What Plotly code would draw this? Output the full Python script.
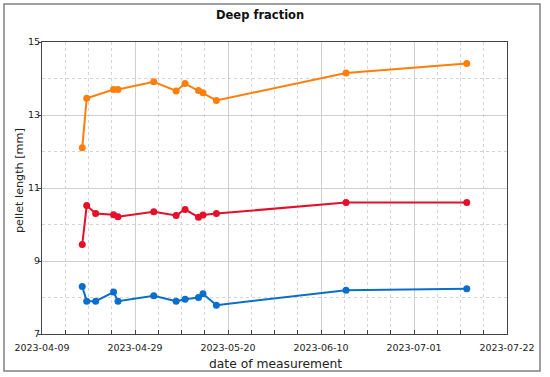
import plotly.graph_objects as go

# ---- data ----
dates_orange = ["2023-04-18", "2023-04-19", "2023-04-25", "2023-04-26", "2023-05-04",
                "2023-05-09", "2023-05-11", "2023-05-14", "2023-05-15", "2023-05-18",
                "2023-06-16", "2023-07-13"]
orange_vals = [12.10, 13.46, 13.70, 13.70, 13.91, 13.66, 13.86, 13.67, 13.61, 13.40, 14.15, 14.41]

dates_rb = ["2023-04-18", "2023-04-19", "2023-04-21", "2023-04-25", "2023-04-26", "2023-05-04",
            "2023-05-09", "2023-05-11", "2023-05-14", "2023-05-15", "2023-05-18",
            "2023-06-16", "2023-07-13"]
red_vals = [9.45, 10.52, 10.30, 10.27, 10.21, 10.35, 10.25, 10.41, 10.20, 10.26, 10.30, 10.60, 10.60]
blue_vals = [8.30, 7.90, 7.90, 8.15, 7.90, 8.05, 7.90, 7.95, 8.00, 8.10, 7.79, 8.20, 8.24]

x_tick_vals = ["2023-04-09 00:00", "2023-04-29 19:12", "2023-05-20 14:24",
               "2023-06-10 09:36", "2023-07-01 04:48", "2023-07-22 00:00"]
x_tick_text = ["2023-04-09", "2023-04-29", "2023-05-20", "2023-06-10", "2023-07-01", "2023-07-22"]
y_tick_vals = [7, 9, 11, 13, 15]

title_text = "Deep fraction"
x_title = "date of measurement"
y_title = "pellet length [mm]"

# ---- styling ----
C_ORANGE = "#ff7f0a"
C_RED = "#e4102a"
C_BLUE = "#0a6ecc"
FONT = "DejaVu Sans"
AXC = "#444444"
DAY_MS = 86400000

fig = go.Figure()
for xs, ys, c in [(dates_orange, orange_vals, C_ORANGE),
                  (dates_rb, red_vals, C_RED),
                  (dates_rb, blue_vals, C_BLUE)]:
    fig.add_trace(go.Scatter(x=xs, y=ys, mode="lines+markers",
                             line=dict(color=c, width=2),
                             marker=dict(color=c, size=7),
                             showlegend=False))

fig.update_layout(
    width=550, height=377,
    margin=dict(l=42, r=43, t=42, b=43),
    paper_bgcolor="white", plot_bgcolor="white",
    font=dict(family=FONT, size=10, color="#222222"),
    xaxis=dict(type="date", range=["2023-04-09", "2023-07-22"],
               tickmode="array", tickvals=x_tick_vals, ticktext=x_tick_text,
               ticks="inside", ticklen=4, tickcolor=AXC, ticklabelstandoff=5,
               showline=True, linecolor=AXC, linewidth=1, mirror=True,
               showgrid=True, gridcolor="#cfcfcf", gridwidth=1,
               tickfont=dict(family=FONT, size=9.5, color="#222222"),
               zeroline=False,
               minor=dict(tick0="2023-04-09", dtick=5.2 * DAY_MS, ticks="inside",
                          ticklen=4, tickcolor=AXC, showgrid=True,
                          gridcolor="#d4d4d4", griddash="dot", gridwidth=1)),
    yaxis=dict(range=[7, 15], tickmode="array", tickvals=y_tick_vals,
               ticks="outside", ticklen=3, tickcolor=AXC, ticklabelstandoff=-4,
               showline=True, linecolor=AXC, linewidth=1, mirror=True,
               showgrid=True, gridcolor="#cfcfcf", gridwidth=1,
               tickfont=dict(family=FONT, size=9.5, color="#222222"),
               zeroline=False,
               minor=dict(dtick=1, tick0=7, ticks="", showgrid=True,
                          gridcolor="#d4d4d4", griddash="dot", gridwidth=1)),
    xaxis2=dict(type="date", overlaying="x", side="top",
                range=["2023-04-09", "2023-07-22"],
                tick0="2023-04-09", dtick=104 / 6 * DAY_MS,
                ticks="inside", ticklen=4, tickcolor=AXC,
                showticklabels=False, showgrid=False, showline=False, zeroline=False),
    yaxis2=dict(overlaying="y", side="right", range=[7, 15], dtick=1, tick0=7,
                ticks="inside", ticklen=4, tickcolor=AXC,
                showticklabels=False, showgrid=False, showline=False, zeroline=False),
)

# titles
fig.add_annotation(text="<b>" + title_text + "</b>", xref="paper", yref="paper",
                   x=(260 - 42) / 465, y=(334 - 15) / 292, showarrow=False,
                   font=dict(family=FONT, size=11.5, color="#111111"),
                   xanchor="center", yanchor="middle")
fig.add_annotation(text=x_title, xref="paper", yref="paper",
                   x=(275 - 42) / 465, y=(334 - 364) / 292, showarrow=False,
                   font=dict(family=FONT, size=12.3, color="#222222"),
                   xanchor="center", yanchor="middle")
fig.add_annotation(text=y_title, xref="paper", yref="paper",
                   x=(19 - 42) / 465, y=(334 - 181) / 292, showarrow=False,
                   textangle=-90,
                   font=dict(family=FONT, size=11.2, color="#222222"),
                   xanchor="center", yanchor="middle")

# outer frame
fig.add_shape(type="rect", xref="paper", yref="paper",
              x0=(4 - 42) / 465, x1=(540 - 42) / 465,
              y0=(334 - 371) / 292, y1=(334 - 4) / 292,
              line=dict(color="#808080", width=1.5), layer="below")

fig.write_html("out.html", config={"displayModeBar": False},
               post_script="document.body.style.margin='0';document.body.style.overflow='hidden';")
